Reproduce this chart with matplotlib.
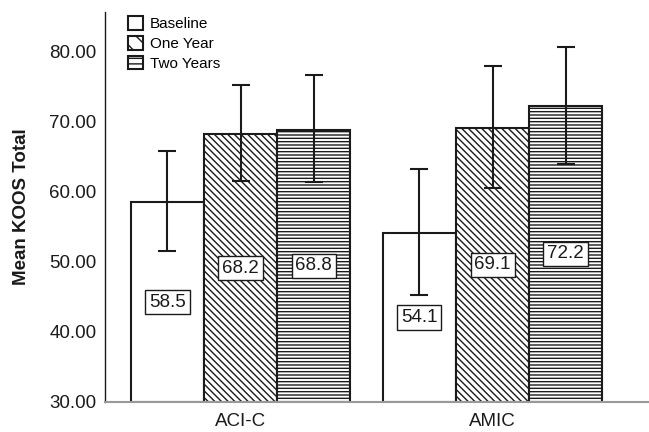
import matplotlib
matplotlib.use("Agg")
import matplotlib.pyplot as plt
import numpy as np
from matplotlib.patches import Patch

plt.rcParams['font.family'] = ['Liberation Sans', 'DejaVu Sans']
plt.rcParams['hatch.linewidth'] = 1.0

groups = ["ACI-C", "AMIC"]
series = ["Baseline", "One Year", "Two Years"]
means = {
    "Baseline": [58.5, 54.1],
    "One Year": [68.2, 69.1],
    "Two Years": [68.8, 72.2],
}
err_low = {
    "Baseline": [51.5, 45.2],
    "One Year": [61.5, 60.5],
    "Two Years": [61.3, 63.9],
}
err_high = {
    "Baseline": [65.8, 63.2],
    "One Year": [75.2, 77.9],
    "Two Years": [76.6, 80.6],
}
value_labels = {
    "Baseline": ["58.5", "54.1"],
    "One Year": ["68.2", "69.1"],
    "Two Years": ["68.8", "72.2"],
}
yticks = [30, 40, 50, 60, 70, 80]
ytick_labels = ["30.00", "40.00", "50.00", "60.00", "70.00", "80.00"]

hatches = {"Baseline": "", "One Year": "\\\\\\\\\\", "Two Years": "-----"}

fig = plt.figure(figsize=(6.49, 4.32), dpi=100)
ax = fig.add_axes([105/649, 30/432, 544/649, 390/432])

x = np.arange(len(groups))
width = 0.29
base = 30
for i, s in enumerate(series):
    xs = x + (i - 1) * width
    vals = np.array(means[s])
    ax.bar(xs, vals - base, width, bottom=base, facecolor="white", edgecolor="#1a1a1a",
           linewidth=1.5, hatch=hatches[s], zorder=2)
    lo = vals - np.array(err_low[s])
    hi = np.array(err_high[s]) - vals
    ax.errorbar(xs, vals, yerr=[lo, hi], fmt="none", ecolor="#1a1a1a", elinewidth=1.5,
                capsize=6.5, capthick=1.5, zorder=3)
    for xi, v, lab in zip(xs, vals, value_labels[s]):
        ax.text(xi, (base + v) / 2, lab, ha="center", va="center", fontsize=13.5, color="#1a1a1a",
                bbox=dict(boxstyle="square,pad=0.2", facecolor="white", edgecolor="#1a1a1a", linewidth=1.0),
                zorder=4)

ax.set_xlim(-0.538, 1.621)
ax.set_ylim(30, 85.6)
ax.set_xticks(x)
ax.set_xticklabels(groups, fontsize=13.5, color="#1a1a1a")
ax.set_yticks(yticks)
ax.set_yticklabels(ytick_labels, fontsize=13.5, color="#1a1a1a")
ax.tick_params(axis="both", length=0)
ax.tick_params(axis="x", pad=8)
ax.tick_params(axis="y", pad=6)
ax.set_ylabel("Mean KOOS Total", fontsize=13.5, fontweight="bold", color="#1a1a1a", labelpad=14)

for sp in ["top", "right"]:
    ax.spines[sp].set_visible(False)
ax.spines["left"].set_color("#1a1a1a")
ax.spines["left"].set_linewidth(1.0)
ax.spines["bottom"].set_color("#999999")
ax.spines["bottom"].set_linewidth(1.5)

handles = [Patch(facecolor="white", edgecolor="#1a1a1a", linewidth=1.5, hatch=hatches[s].replace("\\\\\\\\\\", "\\\\").replace("-----", "---")) for s in series]
leg = ax.legend(handles, series, loc="upper left", bbox_to_anchor=(0.037, 0.997), frameon=False,
                fontsize=11, handlelength=1.0, handleheight=1.0, handletextpad=0.4,
                labelspacing=0.3, borderaxespad=0, borderpad=0.2)

fig.savefig("out.png", dpi=100)
